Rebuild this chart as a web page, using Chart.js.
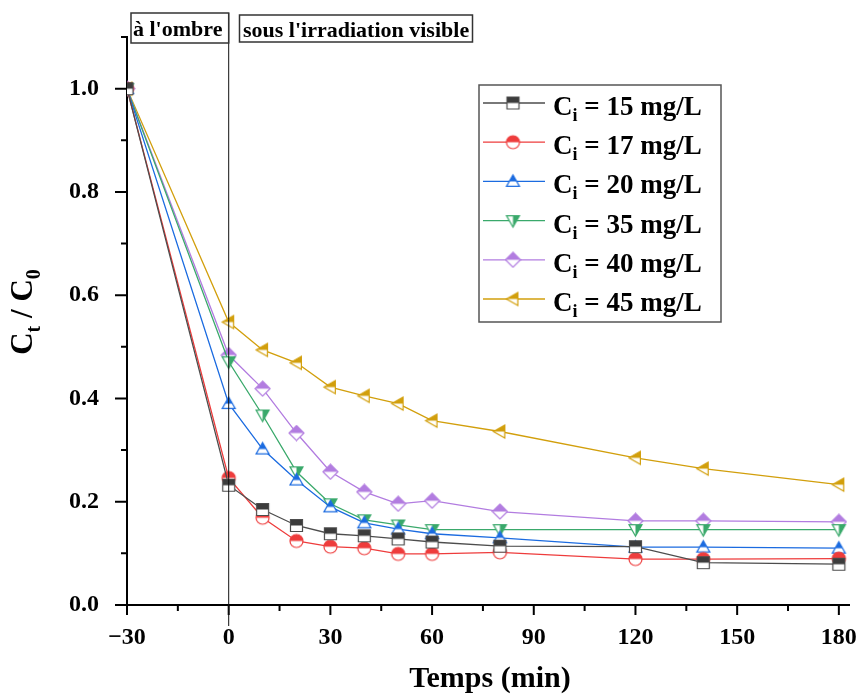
<!DOCTYPE html>
<html>
<head>
<meta charset="utf-8">
<script src="https://cdn.jsdelivr.net/npm/chart.js@4.4.1/dist/chart.umd.min.js"></script>
<style>
  html, body { margin: 0; padding: 0; background: #fff; }
  canvas { display: block; }
</style>
</head>
<body>
<canvas id="chart" width="858" height="695"></canvas>
<script>
// time points (min), dark phase starts at -30
const times = [-30, 0, 10, 20, 30, 40, 50, 60, 80, 120, 140, 180];

// Ct/C0 for each initial concentration
const c15 = [1.0, 0.232, 0.185, 0.154, 0.138, 0.134, 0.128, 0.122, 0.114, 0.113, 0.082, 0.079];
const c17 = [1.0, 0.246, 0.169, 0.124, 0.113, 0.110, 0.099, 0.099, 0.102, 0.089, 0.089, 0.090];
const c20 = [1.0, 0.390, 0.302, 0.242, 0.190, 0.159, 0.147, 0.138, 0.130, 0.112, 0.112, 0.110];
const c35 = [1.0, 0.471, 0.368, 0.258, 0.196, 0.165, 0.155, 0.146, 0.146, 0.146, 0.146, 0.146];
const c40 = [1.0, 0.484, 0.419, 0.333, 0.258, 0.219, 0.196, 0.202, 0.181, 0.163, 0.163, 0.161];
const c45 = [1.0, 0.548, 0.494, 0.469, 0.422, 0.405, 0.390, 0.357, 0.336, 0.285, 0.264, 0.233];

const concentrations = [15, 17, 20, 35, 40, 45];
const seriesValues = [c15, c17, c20, c35, c40, c45];

const xTicks = [-30, 0, 30, 60, 90, 120, 150, 180];
const xMinor = [-15, 15, 45, 75, 105, 135, 165];
const yTicks = [0, 0.2, 0.4, 0.6, 0.8, 1.0];
const yMinor = [0.1, 0.3, 0.5, 0.7, 0.9, 1.1];

const colors = ['#4d4d4d', '#ee3c3c', '#1b6be0', '#3aa96b', '#b27ce0', '#d29f0c'];
const fills  = ['#3c3c3c', '#ee3c3c', '#1b6be0', '#3aa96b', '#b27ce0', '#d29f0c'];
const shapes = ['square', 'circle', 'triUp', 'triDown', 'diamond', 'triLeft'];

const SERIF = '"Liberation Serif", "Times New Roman", serif';

// half-filled marker drawn once on a small canvas, used as pointStyle
function makeMarker(shape, stroke, fill) {
  const s = 17;
  const c = document.createElement('canvas');
  c.width = s; c.height = s;
  const g = c.getContext('2d');
  const m = s / 2;
  const r = 6.5;
  g.beginPath();
  if (shape === 'square') {
    g.rect(m - 6, m - 6, 12, 12);
  } else if (shape === 'circle') {
    g.arc(m, m, r, 0, Math.PI * 2);
  } else if (shape === 'triUp') {
    g.moveTo(m, m - r); g.lineTo(m + r, m + r * 0.75); g.lineTo(m - r, m + r * 0.75); g.closePath();
  } else if (shape === 'triDown') {
    g.moveTo(m - r, m - r * 0.75); g.lineTo(m + r, m - r * 0.75); g.lineTo(m, m + r); g.closePath();
  } else if (shape === 'diamond') {
    g.moveTo(m, m - r - 1); g.lineTo(m + r + 1, m); g.lineTo(m, m + r + 1); g.lineTo(m - r - 1, m); g.closePath();
  } else if (shape === 'triLeft') {
    g.moveTo(m - r, m); g.lineTo(m + r * 0.75, m - r); g.lineTo(m + r * 0.75, m + r); g.closePath();
  }
  g.fillStyle = '#fff';
  g.fill();
  g.save();
  g.clip();
  g.fillStyle = fill;
  if (shape === 'triDown') {
    g.fillRect(m, 0, s, s);
  } else {
    g.fillRect(0, 0, s, m);
  }
  g.restore();
  g.lineWidth = 1.2;
  g.strokeStyle = stroke;
  g.stroke();
  return c;
}

const markers = shapes.map((sh, i) => makeMarker(sh, colors[i], fills[i]));

const datasets = seriesValues.map((vals, i) => ({
  label: 'Ci = ' + concentrations[i] + ' mg/L',
  data: times.map((t, k) => ({ x: t, y: vals[k] })),
  borderColor: colors[i],
  backgroundColor: colors[i],
  borderWidth: 1.3,
  pointStyle: markers[i],
  pointRadius: 7,
  pointHoverRadius: 7,
  tension: 0
}));

// ticks, annotations, legend and axis titles drawn on top of the chart
const decorPlugin = {
  id: 'decor',
  afterDraw(chart) {
    const ctx = chart.ctx;
    const xs = chart.scales.x;
    const ys = chart.scales.y;
    const area = chart.chartArea;
    ctx.save();

    // tick marks
    ctx.strokeStyle = '#000';
    ctx.lineWidth = 2;
    ctx.beginPath();
    xTicks.forEach(v => { const p = xs.getPixelForValue(v); ctx.moveTo(p, area.bottom); ctx.lineTo(p, area.bottom + 10); });
    xMinor.forEach(v => { const p = xs.getPixelForValue(v); ctx.moveTo(p, area.bottom); ctx.lineTo(p, area.bottom + 6); });
    yTicks.forEach(v => { const p = ys.getPixelForValue(v); ctx.moveTo(area.left, p); ctx.lineTo(area.left - 12, p); });
    yMinor.forEach(v => { const p = ys.getPixelForValue(v); ctx.moveTo(area.left, p); ctx.lineTo(area.left - 6, p); });
    ctx.stroke();

    // separator at t = 0
    const x0 = xs.getPixelForValue(0);
    ctx.lineWidth = 1;
    ctx.strokeStyle = '#111';
    ctx.beginPath();
    ctx.moveTo(x0, 13);
    ctx.lineTo(x0, 626);
    ctx.stroke();

    // phase labels
    ctx.font = 'bold 22px ' + SERIF;
    ctx.fillStyle = '#000';
    ctx.textBaseline = 'alphabetic';
    ctx.strokeStyle = '#333';
    ctx.lineWidth = 1.5;
    ctx.strokeRect(131, 13, x0 - 131, 30);
    ctx.fillText("à l'ombre", 133, 36);
    ctx.strokeRect(239.5, 15, 233, 27);
    ctx.fillText("sous l'irradiation visible", 243, 37);

    // legend
    ctx.strokeStyle = '#555';
    ctx.lineWidth = 1.5;
    ctx.fillStyle = '#fff';
    ctx.fillRect(479, 85, 242, 237);
    ctx.strokeRect(479, 85, 242, 237);
    chart.data.datasets.forEach((ds, i) => {
      const ly = 103 + i * 39.2;
      ctx.strokeStyle = ds.borderColor;
      ctx.lineWidth = 1.3;
      ctx.beginPath();
      ctx.moveTo(483, ly);
      ctx.lineTo(545, ly);
      ctx.stroke();
      const mk = markers[i];
      ctx.drawImage(mk, 513 - mk.width / 2, ly - mk.height / 2);
      ctx.fillStyle = '#000';
      let tx = 553;
      const base = ly + 12;
      ctx.font = 'bold 27px ' + SERIF;
      ctx.fillText('C', tx, base);
      tx += ctx.measureText('C').width;
      ctx.font = 'bold 18px ' + SERIF;
      ctx.fillText('i', tx, base + 6);
      tx += ctx.measureText('i').width;
      ctx.font = 'bold 27px ' + SERIF;
      ctx.fillText(' = ' + concentrations[i] + ' mg/L', tx, base);
    });

    // x axis title
    ctx.fillStyle = '#000';
    ctx.font = 'bold 30px ' + SERIF;
    ctx.textAlign = 'center';
    ctx.fillText('Temps (min)', 490, 687);
    ctx.textAlign = 'left';

    // y axis title  Ct / C0
    ctx.translate(32, 312);
    ctx.rotate(-Math.PI / 2);
    const parts = [['C', 31, 0], ['t', 20, 8], [' / C', 31, 0], ['0', 20, 8]];
    let total = 0;
    parts.forEach(p => { ctx.font = 'bold ' + p[1] + 'px ' + SERIF; total += ctx.measureText(p[0]).width; });
    let px = -total / 2;
    parts.forEach(p => {
      ctx.font = 'bold ' + p[1] + 'px ' + SERIF;
      ctx.fillText(p[0], px, p[2]);
      px += ctx.measureText(p[0]).width;
    });
    ctx.restore();
  }
};

new Chart(document.getElementById('chart'), {
  type: 'line',
  data: { datasets },
  options: {
    responsive: false,
    animation: false,
    layout: { padding: { left: 0, right: 3, top: 37, bottom: 0 } },
    plugins: {
      legend: { display: false },
      tooltip: { enabled: false }
    },
    scales: {
      x: {
        type: 'linear',
        min: -30,
        max: 183.2,
        afterBuildTicks: axis => { axis.ticks = xTicks.map(v => ({ value: v })); },
        afterFit: axis => { axis.height = 90; axis.paddingLeft = 0; axis.paddingRight = 0; },
        grid: { display: false },
        border: { display: true, color: '#000', width: 2 },
        ticks: {
          padding: 10,
          color: '#000',
          font: { family: SERIF, size: 24, weight: 'bold' },
          maxRotation: 0,
          callback: v => (v < 0 ? '\u2212' + Math.abs(v) : String(v))
        }
      },
      y: {
        min: 0,
        max: 1.1,
        afterBuildTicks: axis => { axis.ticks = yTicks.map(v => ({ value: v })); },
        afterFit: axis => { axis.width = 127; axis.paddingTop = 0; axis.paddingBottom = 0; },
        grid: { display: false },
        border: { display: true, color: '#000', width: 2 },
        ticks: {
          padding: 20,
          color: '#000',
          font: { family: SERIF, size: 24, weight: 'bold' },
          callback: v => v.toFixed(1)
        }
      }
    }
  },
  plugins: [decorPlugin]
});
</script>
</body>
</html>
